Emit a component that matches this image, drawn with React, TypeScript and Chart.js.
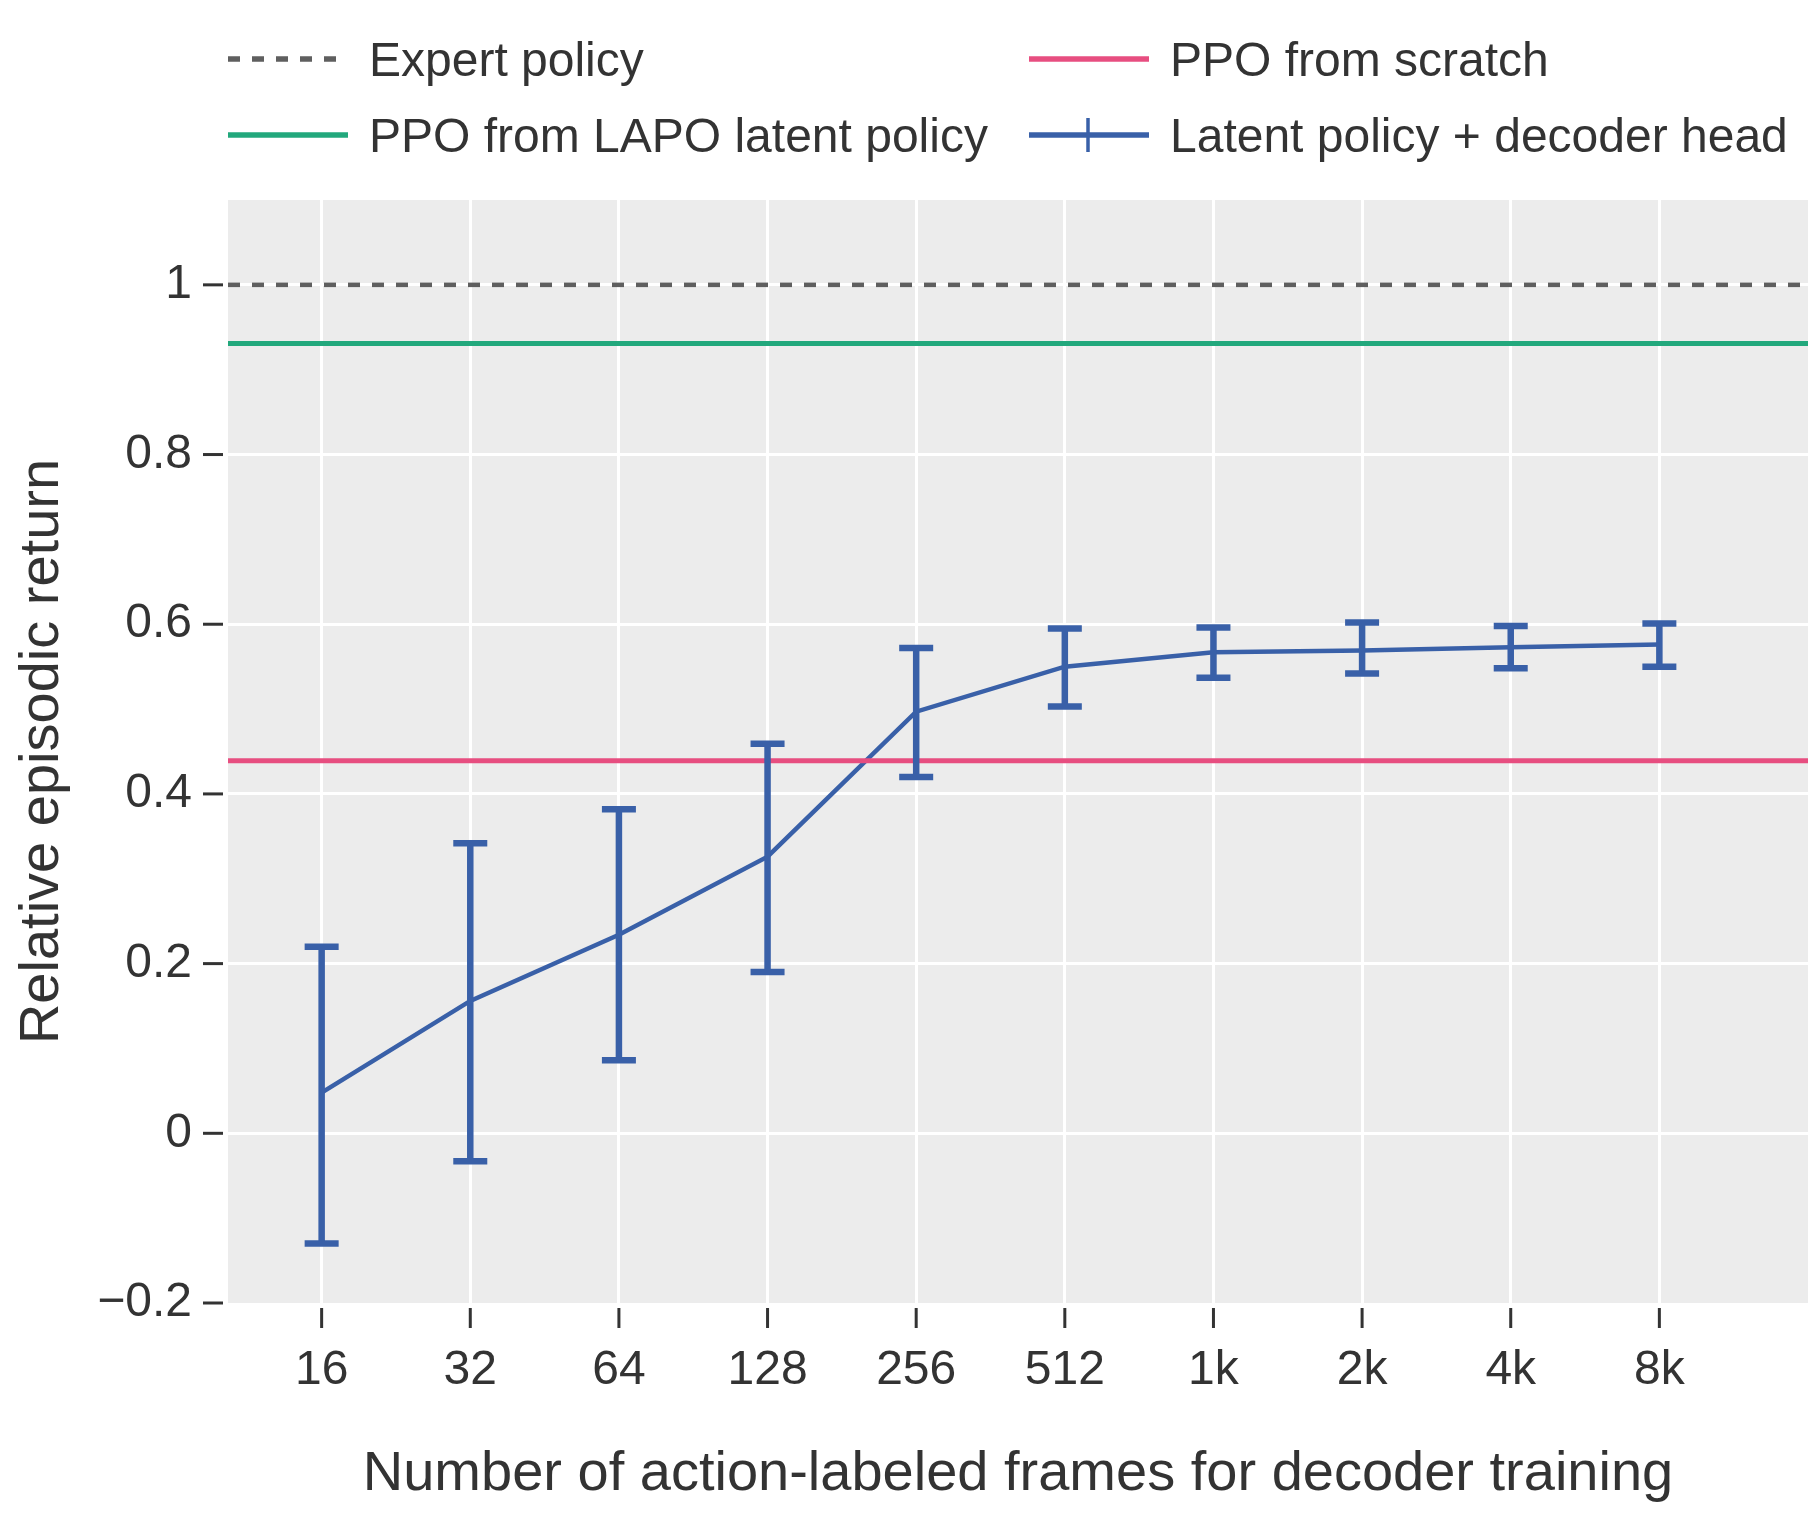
import React, { useEffect, useRef } from "react";
import { Chart, registerables } from "chart.js";

Chart.register(...registerables);

// ---- data ----
const xLabels = ["16", "32", "64", "128", "256", "512", "1k", "2k", "4k", "8k"];
const xPositions = [0, 1, 2, 3, 4, 5, 6, 7, 8, 9];
const latentMean = [0.048, 0.156, 0.234, 0.326, 0.497, 0.55, 0.567, 0.569, 0.573, 0.576];
const latentUpper = [0.22, 0.342, 0.382, 0.459, 0.572, 0.595, 0.596, 0.602, 0.598, 0.601];
const latentLower = [-0.13, -0.033, 0.086, 0.19, 0.42, 0.503, 0.537, 0.542, 0.548, 0.55];
const expertReturn = 1.0;
const lapoPpoReturn = 0.931;
const scratchPpoReturn = 0.439;
const yTicks = [-0.2, 0, 0.2, 0.4, 0.6, 0.8, 1];
const yTickLabels = ["\u22120.2", "0", "0.2", "0.4", "0.6", "0.8", "1"];
const xRange = [-0.63, 10];
const yRange = [-0.2, 1.1];
const seriesNames = [
  "Expert policy",
  "PPO from scratch",
  "PPO from LAPO latent policy",
  "Latent policy + decoder head",
];
const xTitle = "Number of action-labeled frames for decoder training";
const yTitle = "Relative episodic return";

// ---- styles ----
const FONT = '"Liberation Sans", Arial, Helvetica, sans-serif';
const TEXT = "#333333";
const C_EXPERT = "rgb(95,95,95)";
const C_SCRATCH = "rgb(231,78,128)";
const C_LAPO = "rgb(34,168,124)";
const C_LATENT = "rgb(57,96,168)";
const PLOT_BG = "rgb(236,236,236)";

const bgPlugin = {
  id: "plotBg",
  beforeDraw(chart: any) {
    const { ctx, chartArea: a } = chart;
    ctx.save();
    ctx.fillStyle = PLOT_BG;
    ctx.fillRect(a.left, a.top, a.right - a.left, a.bottom - a.top);
    ctx.restore();
  },
};

const errorBarPlugin = {
  id: "errorBars",
  afterDatasetsDraw(chart: any) {
    const { ctx, scales } = chart;
    const xs = scales.x;
    const ys = scales.y;
    ctx.save();
    ctx.strokeStyle = C_LATENT;
    ctx.lineWidth = 6.5;
    ctx.lineCap = "butt";
    const half = 17;
    xPositions.forEach((xv, i) => {
      const px = xs.getPixelForValue(xv);
      const pt = ys.getPixelForValue(latentUpper[i]);
      const pb = ys.getPixelForValue(latentLower[i]);
      ctx.beginPath();
      ctx.moveTo(px, pt);
      ctx.lineTo(px, pb);
      ctx.moveTo(px - half, pt);
      ctx.lineTo(px + half, pt);
      ctx.moveTo(px - half, pb);
      ctx.lineTo(px + half, pb);
      ctx.stroke();
    });
    ctx.restore();
  },
};

const tickMarkPlugin = {
  id: "tickMarks",
  afterDraw(chart: any) {
    const { ctx, scales, chartArea: a } = chart;
    ctx.save();
    ctx.strokeStyle = TEXT;
    ctx.lineWidth = 3;
    scales.y.ticks.forEach((t: any) => {
      const py = scales.y.getPixelForValue(t.value);
      ctx.beginPath();
      ctx.moveTo(a.left - 25, py);
      ctx.lineTo(a.left - 5, py);
      ctx.stroke();
    });
    scales.x.ticks.forEach((t: any) => {
      const px = scales.x.getPixelForValue(t.value);
      ctx.beginPath();
      ctx.moveTo(px, a.bottom + 5);
      ctx.lineTo(px, a.bottom + 25);
      ctx.stroke();
    });
    ctx.restore();
  },
};

const legendPlugin = {
  id: "customLegend",
  afterDraw(chart: any) {
    const { ctx } = chart;
    const items = [
      { name: seriesNames[0], color: C_EXPERT, dash: [12, 12], x: 228, y: 61, bar: false },
      { name: seriesNames[1], color: C_SCRATCH, dash: [], x: 1029, y: 61, bar: false },
      { name: seriesNames[2], color: C_LAPO, dash: [], x: 228, y: 137, bar: false },
      { name: seriesNames[3], color: C_LATENT, dash: [], x: 1029, y: 137, bar: true },
    ];
    ctx.save();
    items.forEach((it) => {
      ctx.strokeStyle = it.color;
      ctx.lineWidth = 5.5;
      ctx.setLineDash(it.dash);
      ctx.beginPath();
      ctx.moveTo(it.x, it.y - 2);
      ctx.lineTo(it.x + 120, it.y - 2);
      ctx.stroke();
      ctx.setLineDash([]);
      if (it.bar) {
        ctx.lineWidth = 3.5;
        ctx.beginPath();
        ctx.moveTo(it.x + 59, it.y - 19);
        ctx.lineTo(it.x + 59, it.y + 15);
        ctx.stroke();
      }
      ctx.fillStyle = TEXT;
      ctx.font = `48px ${FONT}`;
      ctx.textBaseline = "middle";
      ctx.textAlign = "left";
      ctx.fillText(it.name, it.x + 141, it.y + 2);
    });
    ctx.restore();
  },
};

export default function App() {
  const ref = useRef<HTMLCanvasElement>(null);

  useEffect(() => {
    document.body.style.margin = "0";
    const hline = (v: number) => [
      { x: xRange[0], y: v },
      { x: xRange[1], y: v },
    ];
    const chart = new Chart(ref.current as HTMLCanvasElement, {
      type: "line",
      data: {
        datasets: [
          {
            label: seriesNames[0],
            data: hline(expertReturn),
            borderColor: C_EXPERT,
            borderWidth: 4.5,
            borderDash: [12, 12],
            pointRadius: 0,
          },
          {
            label: seriesNames[1],
            data: hline(scratchPpoReturn),
            borderColor: C_SCRATCH,
            borderWidth: 5,
            pointRadius: 0,
          },
          {
            label: seriesNames[2],
            data: hline(lapoPpoReturn),
            borderColor: C_LAPO,
            borderWidth: 5,
            pointRadius: 0,
          },
          {
            label: seriesNames[3],
            data: xPositions.map((x, i) => ({ x, y: latentMean[i] })),
            borderColor: C_LATENT,
            borderWidth: 4.5,
            pointRadius: 0,
            tension: 0,
          },
        ],
      },
      options: {
        animation: false,
        responsive: false,
        devicePixelRatio: 1,
        layout: { padding: { top: 200, left: 0, right: 0, bottom: 0 } },
        plugins: {
          legend: { display: false },
          tooltip: { enabled: false },
        },
        scales: {
          x: {
            type: "linear",
            min: xRange[0],
            max: xRange[1],
            afterBuildTicks: (scale: any) => {
              scale.ticks = xPositions.map((v) => ({ value: v }));
            },
            afterFit: (scale: any) => {
              scale.height = 217;
            },
            ticks: {
              autoSkip: false,
              maxRotation: 0,
              padding: 13.5,
              color: TEXT,
              font: { family: FONT, size: 48 },
              callback: (_v: any, i: number) => xLabels[i],
            },
            grid: {
              color: "#ffffff",
              lineWidth: 3,
              drawTicks: true,
              tickLength: 25,
              tickColor: "rgba(0,0,0,0)",
            },
            border: { display: false },
            title: {
              display: true,
              text: xTitle,
              color: TEXT,
              font: { family: FONT, size: 56 },
              padding: { top: 0, bottom: 12 },
            },
          },
          y: {
            type: "linear",
            min: yRange[0],
            max: yRange[1],
            afterBuildTicks: (scale: any) => {
              scale.ticks = yTicks.map((v) => ({ value: v }));
            },
            afterFit: (scale: any) => {
              scale.width = 228;
            },
            ticks: {
              padding: 11,
              color: TEXT,
              font: { family: FONT, size: 48 },
              callback: (_v: any, i: number) => yTickLabels[i],
            },
            grid: {
              color: (c: any) =>
                c.tick && c.tick.value === yRange[0] ? "rgba(0,0,0,0)" : "#ffffff",
              lineWidth: 3,
              drawTicks: true,
              tickLength: 25,
              tickColor: "rgba(0,0,0,0)",
            },
            border: { display: false },
            title: {
              display: true,
              text: yTitle,
              color: TEXT,
              font: { family: FONT, size: 56 },
              padding: { top: 8.5, bottom: 0 },
            },
          },
        },
      } as any,
      plugins: [bgPlugin, errorBarPlugin, tickMarkPlugin, legendPlugin],
    });
    return () => chart.destroy();
  }, []);

  return (
    <canvas
      ref={ref}
      width={1808}
      height={1520}
      style={{ display: "block", width: 1808, height: 1520 }}
    />
  );
}
